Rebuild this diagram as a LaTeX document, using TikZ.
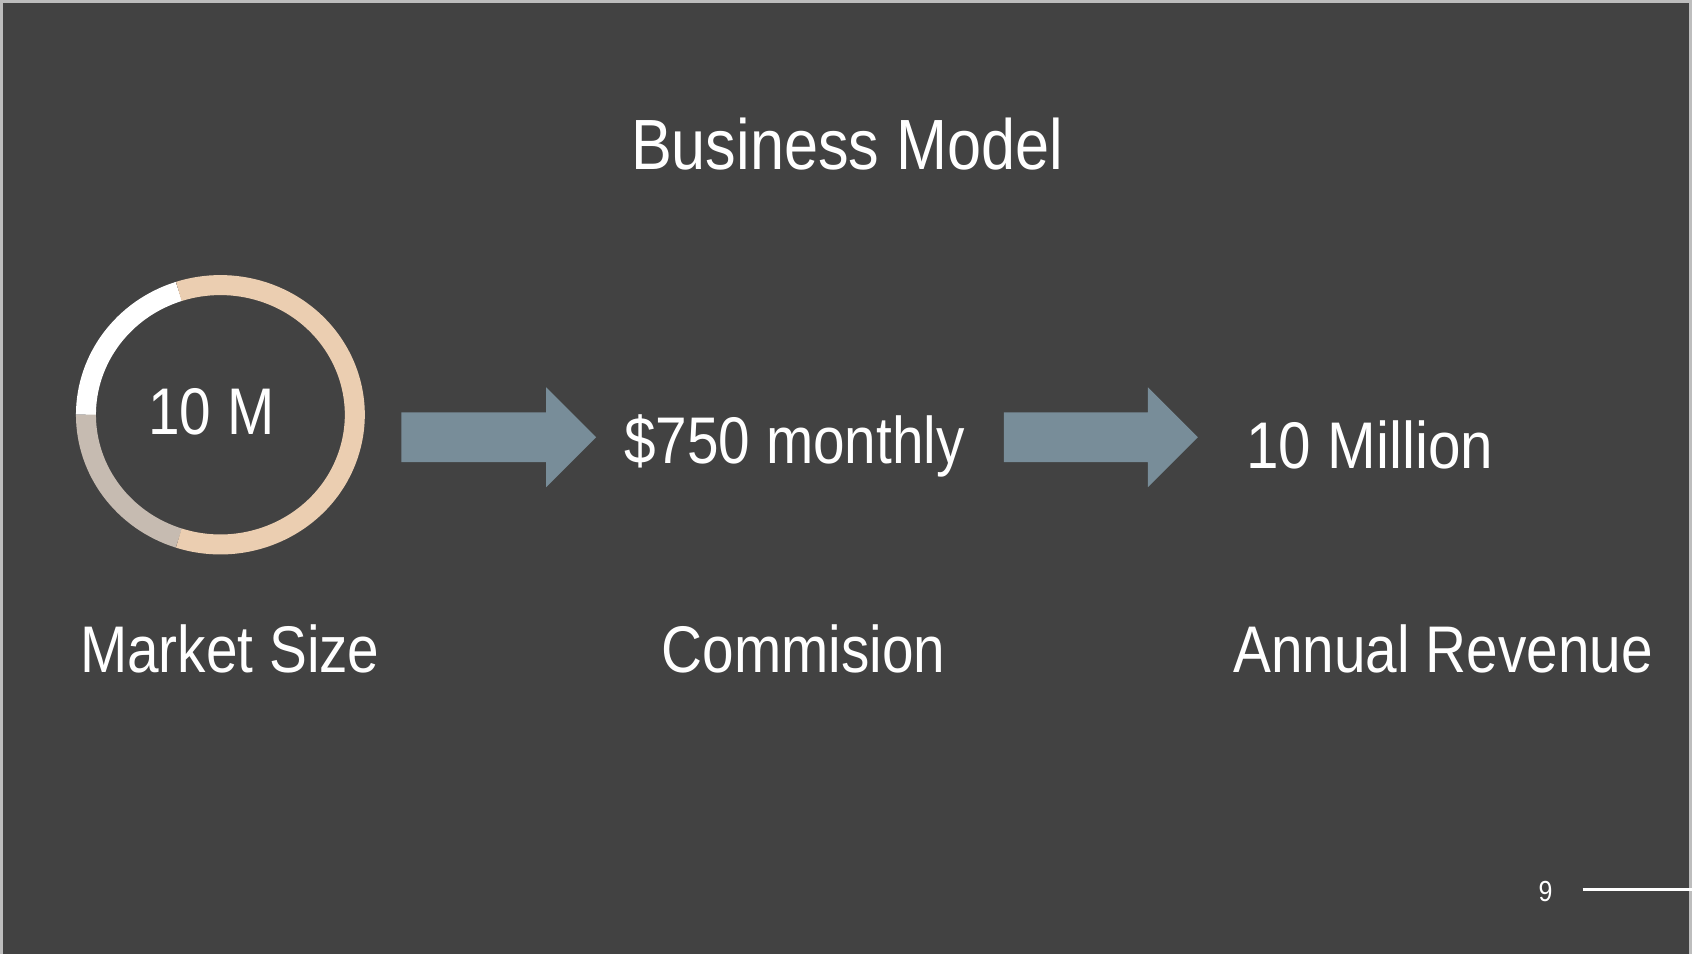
\documentclass[tikz,border=0pt]{standalone}
\usepackage{fontspec}
\setmainfont{Liberation Sans}[FakeStretch=0.86]
\usetikzlibrary{positioning}
\definecolor{slide}{HTML}{424242}
\definecolor{frameline}{HTML}{BDBDBD}
\definecolor{sand}{HTML}{EBCEB1}
\definecolor{stone}{HTML}{C6BBB1}
\definecolor{slate}{HTML}{788D99}
\tikzset{
  txt/.style={anchor=base, inner sep=0pt, text=white, font=\fontsize{33}{36}\selectfont},
  ttl/.style={txt, font=\fontsize{35.6}{40}\selectfont},
  seg/.style={line width=10pt},
  blockarrow/.style={fill=slate, draw=none}
}
\begin{document}
\begin{tikzpicture}[x=0.5pt,y=0.5pt]
\fill[slide] (0,0) rectangle (1692,-954);
\draw[frameline, line width=1.5pt] (1,-954) -- (1,-1) -- (1691,-1) -- (1691,-954);
\useasboundingbox (0,0) rectangle (1692,-954);
\node (titulo) [ttl] at (847,-169) {Business Model};
% ring
\coordinate (centro) at (220,-414.5);
\draw[seg, white] (centro) ++(108:134.5 and 129.75) arc[start angle=108, end angle=180, x radius=134.5, y radius=129.75];
\draw[seg, stone] (centro) ++(180:134.5 and 129.75) arc[start angle=180, end angle=252, x radius=134.5, y radius=129.75];
\draw[seg, sand] (centro) ++(252:134.5 and 129.75) arc[start angle=252, end angle=468, x radius=134.5, y radius=129.75];
\node (mercado) [txt] at (211,-434) {10 M};
\node (comision) [txt] at (794.5,-463) {\$750 monthly};
\node (ingreso) [txt] at (1370,-468) {\scalebox{1.03}[1]{10 Million}};
% arrows
\fill[blockarrow] (401,-412) -- (546,-412) -- (546,-387) -- (596,-437) -- (546,-487) -- (546,-462) -- (401,-462) -- cycle;
\fill[blockarrow] (1004,-412) -- (1148,-412) -- (1148,-387) -- (1198,-437) -- (1148,-487) -- (1148,-462) -- (1004,-462) -- cycle;
% labels
\node (etiq1) [txt] at (229.5,-672) {Market Size};
\node (etiq2) [txt] at (803.5,-672) {Commision};
\node (etiq3) [txt] at (1443.5,-672) {Annual Revenue};
% page number
\node (pagina) [txt, font=\fontsize{14.5}{16}\selectfont] at (1546,-902) {9};
\coordinate (raya1) at (1583,-890);
\coordinate (raya2) at (1692,-890);
\draw[white, line width=1.5pt] (raya1) -- (raya2);
\end{tikzpicture}
\end{document}
